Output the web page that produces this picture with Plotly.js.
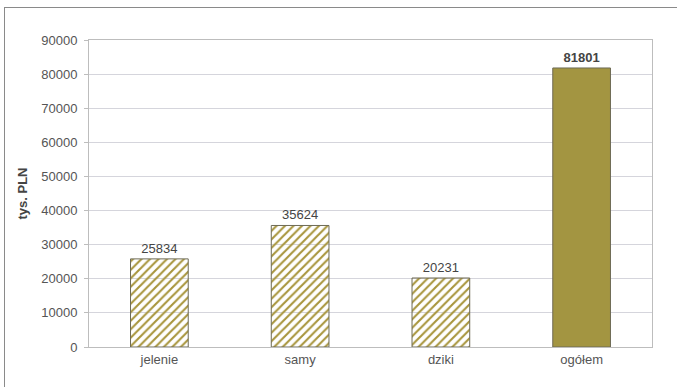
<!DOCTYPE html>
<html>
<head>
<meta charset="utf-8">
<script src="https://cdn.plot.ly/plotly-3.0.1.min.js"></script>
<style>
  body { margin: 0; background: #fff; }
  #frame { position: absolute; left: 4px; top: 7px; width: 720px; height: 420px; border: 1.5px solid #8a8a8a; box-sizing: border-box; }
  #chart { position: absolute; left: 0; top: 0; width: 677px; height: 387px; }
</style>
</head>
<body>
<div id="frame"></div>
<div id="chart"></div>
<script>
const categories = ["jelenie", "samy", "dziki", "ogółem"];
const values = [25834, 35624, 20231, 81801];
const yTicks = [0, 10000, 20000, 30000, 40000, 50000, 60000, 70000, 80000, 90000];

const labels = values.map((v, i) => i === 3 ? "<b>" + v + "</b>" : String(v));

const trace = {
  type: "bar",
  x: categories,
  y: values,
  text: labels,
  textposition: "outside",
  textfont: { family: "Liberation Sans, Arial, sans-serif", size: 13, color: "#444" },
  cliponaxis: false,
  hoverinfo: "skip",
  marker: {
    color: ["#a8953c", "#a8953c", "#a8953c", "#a39541"],
    line: { color: "#6d6a55", width: 1 },
    pattern: {
      shape: ["/", "/", "/", ""],
      fgcolor: ["#a8953c", "#a8953c", "#a8953c", "#a39541"],
      bgcolor: "#ffffff",
      size: 6,
      solidity: 0.35,
      fillmode: "replace"
    }
  }
};

const layout = {
  width: 677,
  height: 387,
  margin: { l: 89, r: 25, t: 40, b: 40 },
  paper_bgcolor: "rgba(0,0,0,0)",
  plot_bgcolor: "#ffffff",
  showlegend: false,
  bargap: 0.59,
  font: { family: "Liberation Sans, Arial, sans-serif", size: 13, color: "#555" },
  xaxis: {
    type: "category",
    showgrid: false,
    showline: true,
    linecolor: "#bdbdbd",
    linewidth: 1,
    mirror: true,
    ticks: "",
    tickfont: { size: 13, color: "#555" }
  },
  yaxis: {
    range: [0, 90000],
    tickvals: yTicks,
    ticktext: yTicks.map(String),
    showgrid: true,
    gridcolor: "#d5d5dc",
    gridwidth: 1,
    showline: true,
    linecolor: "#bdbdbd",
    mirror: true,
    ticks: "outside",
    ticklen: 4,
    tickcolor: "#bdbdbd",
    ticklabelstandoff: 4,
    zeroline: true,
    zerolinecolor: "#8c8c8c",
    zerolinewidth: 1,
    tickfont: { size: 13, color: "#555" },
    title: { text: "<b>tys. PLN</b>", font: { size: 13, color: "#444" }, standoff: 10 }
  }
};

Plotly.newPlot("chart", [trace], layout, { displayModeBar: false, staticPlot: true });
</script>
</body>
</html>
